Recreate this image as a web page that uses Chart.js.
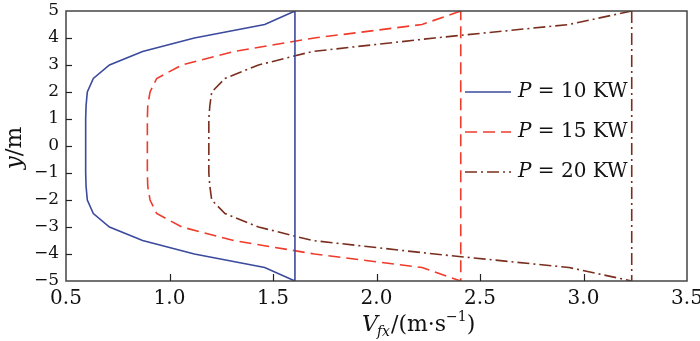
<!DOCTYPE html>
<html>
<head>
<meta charset="utf-8">
<script src="https://cdn.jsdelivr.net/npm/chart.js@4"></script>
<style>
  html, body { margin: 0; padding: 0; background: #fff; }
</style>
</head>
<body>
<canvas id="myChart" width="700" height="341"></canvas>
<script>
// heights (m), top to bottom, then back up to the top along the outer wall
const yLevels = [5, 4.5, 4, 3.5, 3, 2.5, 2, 1.5, 1, 0.5, 0, -0.5, -1, -1.5, -2, -2.5, -3, -3.5, -4, -4.5, -5, 5]
const v10 = [1.606, 1.46, 1.12, 0.87, 0.71, 0.632, 0.603, 0.597, 0.595, 0.595, 0.595, 0.595, 0.595, 0.597, 0.603, 0.632, 0.71, 0.87, 1.12, 1.46, 1.606, 1.606]
const v15 = [2.407, 2.22, 1.70, 1.31, 1.06, 0.938, 0.906, 0.895, 0.893, 0.893, 0.893, 0.893, 0.893, 0.895, 0.906, 0.938, 1.06, 1.31, 1.70, 2.22, 2.407, 2.407]
const v20 = [3.233, 2.93, 2.28, 1.69, 1.43, 1.268, 1.204, 1.195, 1.19, 1.19, 1.19, 1.19, 1.19, 1.195, 1.204, 1.268, 1.43, 1.69, 2.28, 2.93, 3.233, 3.233]
const seriesNames = ["10 KW", "15 KW", "20 KW"]
const xTicks = [0.5, 1.0, 1.5, 2.0, 2.5, 3.0, 3.5]
const yTicks = [-5, -4, -3, -2, -1, 0, 1, 2, 3, 4, 5]

const colors = ['#3b4a9c', '#f03a2a', '#7a2e1e']
const dashes = [[], [12, 6], [12, 4, 2, 4]]
const serif = '"DejaVu Serif", "Liberation Serif", serif'

function toPoints(xs) {
    return xs.map((x, i) => ({ x: x, y: yLevels[i] }))
}

// frame, inward ticks, legend and axis titles
const decor = {
    id: 'decor',
    afterDraw(chart) {
        const ctx = chart.ctx
        const a = chart.chartArea
        const sx = chart.scales.x, sy = chart.scales.y
        ctx.save()
        ctx.strokeStyle = '#444'
        ctx.lineWidth = 1.5
        ctx.strokeRect(a.left, a.top, a.right - a.left, a.bottom - a.top)
        ctx.lineWidth = 1.2
        ctx.strokeStyle = '#222'
        xTicks.slice(1, -1).forEach(v => {
            const px = Math.round(sx.getPixelForValue(v)) + 0.5
            ctx.beginPath(); ctx.moveTo(px, a.bottom); ctx.lineTo(px, a.bottom - 7); ctx.stroke()
        })
        yTicks.slice(1, -1).forEach(v => {
            const py = Math.round(sy.getPixelForValue(v)) + 0.5
            ctx.beginPath(); ctx.moveTo(a.left, py); ctx.lineTo(a.left + 6, py); ctx.stroke()
        })

        // legend
        ctx.textBaseline = 'middle'
        ctx.fillStyle = '#111'
        seriesNames.forEach((name, i) => {
            const y = 92 + i * 40
            ctx.strokeStyle = colors[i]
            ctx.lineWidth = 1.6
            ctx.setLineDash(dashes[i])
            ctx.beginPath(); ctx.moveTo(465, y); ctx.lineTo(511, y); ctx.stroke()
            ctx.setLineDash([])
            let x = 518
            ctx.font = 'italic 20px ' + serif
            ctx.fillText('P', x, y)
            x += ctx.measureText('P').width
            ctx.font = '20px ' + serif
            ctx.fillText(' = ' + name, x, y)
        })

        // x title: V_fx/(m·s^-1)
        ctx.textBaseline = 'alphabetic'
        let x = 362
        const by = 331
        ctx.font = 'italic 22px ' + serif
        ctx.fillText('V', x, by)
        x += ctx.measureText('V').width - 1
        ctx.font = 'italic 14px ' + serif
        ctx.fillText('fx', x, by + 5)
        x += ctx.measureText('fx').width + 1
        ctx.font = '22px ' + serif
        ctx.fillText('/(m·s', x, by)
        x += ctx.measureText('/(m·s').width
        ctx.font = '14px ' + serif
        ctx.fillText('−1', x, by - 10)
        x += ctx.measureText('−1').width
        ctx.font = '22px ' + serif
        ctx.fillText(')', x, by)

        // y title: y/m
        ctx.translate(21, 148)
        ctx.rotate(-Math.PI / 2)
        ctx.textAlign = 'left'
        ctx.font = 'italic 23px ' + serif
        const w1 = ctx.measureText('y').width
        ctx.font = '23px ' + serif
        const w2 = ctx.measureText('/m').width
        let tx = -(w1 + w2) / 2
        ctx.font = 'italic 23px ' + serif
        ctx.fillText('y', tx, 0)
        ctx.font = '23px ' + serif
        ctx.fillText('/m', tx + w1, 0)
        ctx.restore()
    }
}

var ctx = document.getElementById('myChart').getContext('2d')
var chart = new Chart(ctx, {
    type: 'scatter',
    data: {
        datasets: [v10, v15, v20].map((xs, i) => ({
            label: 'P = ' + seriesNames[i],
            data: toPoints(xs),
            showLine: true,
            borderColor: colors[i],
            backgroundColor: colors[i],
            borderWidth: 1.6,
            borderDash: dashes[i],
            pointRadius: 0,
            tension: 0
        }))
    },
    options: {
        responsive: false,
        animation: false,
        devicePixelRatio: 1,
        layout: { padding: { top: 11, right: 13, left: 0, bottom: 0 } },
        plugins: { legend: { display: false }, tooltip: { enabled: false } },
        scales: {
            x: {
                type: 'linear', min: 0.5, max: 3.5,
                afterBuildTicks: s => { s.ticks = xTicks.map(v => ({ value: v })) },
                afterFit: s => { s.height = 60; s.paddingLeft = 0; s.paddingRight = 0 },
                grid: { display: false, drawTicks: false },
                border: { display: false },
                ticks: {
                    padding: 6,
                    color: '#111',
                    font: { family: serif, size: 20 },
                    callback: v => v.toFixed(1)
                }
            },
            y: {
                type: 'linear', min: -5, max: 5,
                afterBuildTicks: s => { s.ticks = yTicks.map(v => ({ value: v })) },
                afterFit: s => { s.width = 66; s.paddingTop = 0; s.paddingBottom = 0 },
                grid: { display: false, drawTicks: false },
                border: { display: false },
                ticks: {
                    padding: 7,
                    color: '#111',
                    font: { family: serif, size: 17 },
                    callback: v => String(v).replace('-', '−')
                }
            }
        }
    },
    plugins: [decor]
})
</script>
</body>
</html>
